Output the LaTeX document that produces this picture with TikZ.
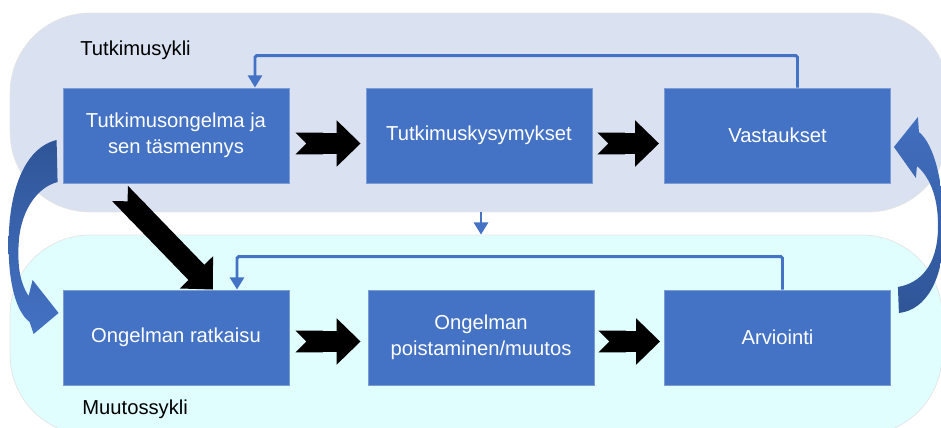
\documentclass[tikz,border=0pt]{standalone}
\usepackage{fontspec}
\setmainfont{Liberation Sans}
\usetikzlibrary{arrows.meta,calc}

\definecolor{boxblue}{HTML}{4472C4}
\definecolor{darkblue}{HTML}{2F5597}
\definecolor{bandtop}{HTML}{DAE1F1}
\definecolor{bandbot}{HTML}{E0FEFE}
\newcommand{\diagfont}{\fontsize{11.5}{14.7}\selectfont}

\tikzset{
  cycleband/.style={rounded corners=1.6cm, draw=gray!20, line width=0.4pt, inner sep=0pt},
  procbox/.style={fill=boxblue, draw=boxblue!70!white, line width=0.5pt,
    minimum width=4.52cm, minimum height=1.9cm, text=white, align=center, font=\diagfont},
  bandlabel/.style={anchor=west, inner sep=0pt, font=\diagfont},
  blockarr/.style={black, line width=12.5pt,
    {Triangle Cap[reversed]}-{Triangle[width=25.5pt,length=13.6pt]}},
  fbline/.style={boxblue, line width=1.7pt, rounded corners=1pt,
    -{Triangle[width=8pt,length=7pt]}}
}

\begin{document}
\begin{tikzpicture}[x=0.02cm, y=-0.02cm]
  \useasboundingbox (0,0) rectangle (941,428);

  % Cycle bands
  \node[cycleband, fill=bandtop, minimum width=18.76cm, minimum height=3.98cm] (tutkband) at (479,112.5) {};
  \node[cycleband, fill=bandbot, minimum width=18.64cm, minimum height=4cm] (muutband) at (476,335) {};
  \node[bandlabel] (tutklabel) at (80,50) {Tutkimusykli};
  \node[bandlabel] (muutlabel) at (82,409) {Muutossykli};

  % Boxes
  \node[procbox] (tutkong) at (176,135.5) {Tutkimusongelma ja\\sen täsmennys};
  \node[procbox] (tkys) at (479,135.5) {Tutkimuskysymykset};
  \node[procbox] (vast) at (777.5,135.5) {Vastaukset};
  \node[procbox] (ratk) at (176,337.5) {Ongelman ratkaisu};
  \node[procbox] (poist) at (481,337.5) {Ongelman\\poistaminen/muutos};
  \node[procbox] (arv) at (777.5,337.5) {Arviointi};

  % Block arrows
  \draw[blockarr] ($(tutkong.east)+(6,8)$) -- ($(tkys.west)+(-5,8)$);
  \draw[blockarr] ($(tkys.east)+(5,8)$) -- ($(vast.west)+(-5,8)$);
  \draw[blockarr] ($(ratk.east)+(6,4)$) -- ($(poist.west)+(-7,4)$);
  \draw[blockarr] ($(poist.east)+(4,4)$) -- ($(arv.west)+(-4,4)$);
  \draw[blockarr] ($(tutkong.south)+(-56,10)$) -- ($(ratk.north)+(37,0)$);

  % Feedback lines
  \draw[fbline] ($(vast.north)+(20,0)$) -- ++(0,-32) -| ($(tutkong.north)+(79,0)$);
  \draw[fbline] ($(arv.north)+(5,0)$) -- ++(0,-33) -| ($(ratk.north)+(61,0)$);
  \draw[fbline] (tutkband.south -| poist.north) -- (muutband.north -| poist.north);

  % Curved arrows between the cycles
  \begin{scope}[shift={(tutkong.west)}]
    \shade[top color=darkblue, bottom color=boxblue]
      (-6,4.5) .. controls (-38,12.5) and (-54,54.5) .. (-54,109.5)
      .. controls (-54,149.5) and (-46,176.5) .. (-33,186.5)
      -- (-29,198.5) -- (-4,177.5) -- (-30,144.5) -- (-34,160.5)
      .. controls (-43,146.5) and (-45,129.5) .. (-44,109.5)
      .. controls (-43,79.5) and (-28,52.5) .. (-5,46.5) -- cycle;
  \end{scope}
  \begin{scope}[shift={(arv.east)}]
    \shade[top color=boxblue!90!darkblue, bottom color=darkblue]
      (7,-50.5) .. controls (30,-54.5) and (46,-72.5) .. (47,-107.5)
      .. controls (48,-137.5) and (40,-159.5) .. (26,-171.5)
      -- (25,-159.5) -- (3,-190.5) -- (27,-220.5) -- (28,-205.5)
      .. controls (44,-192.5) and (53,-152.5) .. (53,-107.5)
      .. controls (53,-57.5) and (35,-27.5) .. (8,-24.5) -- cycle;
  \end{scope}
\end{tikzpicture}
\end{document}
